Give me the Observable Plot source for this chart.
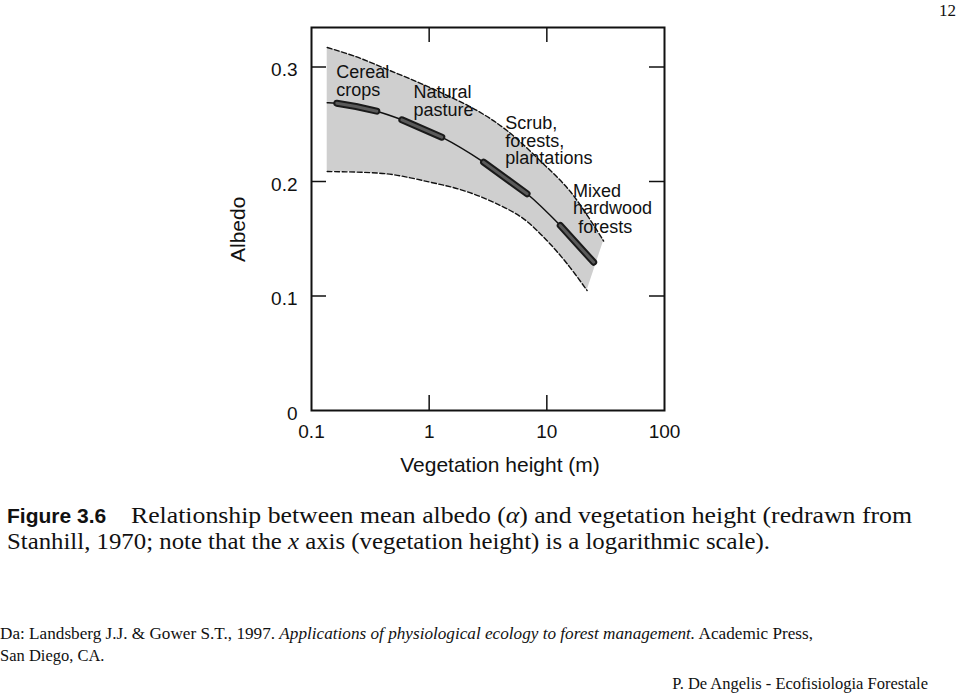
<!DOCTYPE html>
<html>
<head>
<meta charset="utf-8">
<script src="https://cdn.jsdelivr.net/npm/d3@7"></script>
<script src="https://cdn.jsdelivr.net/npm/@observablehq/plot@0.6"></script>
<style>
  html, body { margin: 0; padding: 0; background: #fff; width: 960px; height: 694px; overflow: hidden; }
  #chart { position: absolute; left: 0; top: 0; }
  #notes { position: absolute; left: 0; top: 0; pointer-events: none; }
  #notes text { font-family: "Liberation Serif", "Times New Roman", serif; fill: #111; }
</style>
</head>
<body>
<div id="chart"></div>
<svg id="notes" width="960" height="694">
  <text x="956" y="16" font-size="17" text-anchor="end">12</text>
  <text x="7" y="523" font-size="21" font-weight="bold" style="font-family:'Liberation Sans', Arial, sans-serif">Figure 3.6</text>
  <text x="131" y="523" font-size="24" textLength="781" lengthAdjust="spacingAndGlyphs">Relationship between mean albedo (<tspan font-style="italic">α</tspan>) and vegetation height (redrawn from</text>
  <text x="7" y="549" font-size="24" textLength="763" lengthAdjust="spacingAndGlyphs">Stanhill, 1970; note that the <tspan font-style="italic">x</tspan> axis (vegetation height) is a logarithmic scale).</text>
  <text x="0" y="639" font-size="16.5" textLength="813" lengthAdjust="spacingAndGlyphs">Da: Landsberg J.J. &amp; Gower S.T., 1997. <tspan font-style="italic">Applications of physiological ecology to forest management.</tspan> Academic Press,</text>
  <text x="0" y="661" font-size="16.5">San Diego, CA.</text>
  <text x="928" y="689" font-size="16.5" text-anchor="end">P. De Angelis - Ecofisiologia Forestale</text>
</svg>
<script>
// ---- Data (vegetation height in m, albedo) ----
const upperH = [0.136, 0.239, 0.437, 1.02, 2.55, 4.58, 8.80, 15.9, 30.4];
const upperA = [0.317, 0.309, 0.298, 0.282, 0.262, 0.2445, 0.218, 0.191, 0.148];

const meanH = [0.136, 0.164, 0.239, 0.359, 0.586, 1.28, 2.90, 6.79, 13.0, 25.0, 25.9];
const meanA = [0.2687, 0.2684, 0.2655, 0.2614, 0.2539, 0.2387, 0.2169, 0.1893, 0.1616, 0.1295, 0.1281];

const lowerH = [0.136, 0.437, 1.02, 1.96, 3.77, 6.35, 10.0, 14.9, 22.0];
const lowerA = [0.2087, 0.2067, 0.1994, 0.1921, 0.1805, 0.1674, 0.1485, 0.1281, 0.1048];

const classes = ["Cereal crops", "Natural pasture", "Scrub, forests, plantations", "Mixed hardwood forests"];
const classStart = [0.164, 0.586, 2.90, 13.0];
const classEnd = [0.359, 1.28, 6.79, 25.0];

const labelText = ["Cereal\ncrops", "Natural\npasture", "Scrub,\nforests,\nplantations", "Mixed\nhardwood", "forests"];
const labelH = [0.162, 0.735, 4.44, 16.7, 18.5];
const labelA = [0.3011, 0.2834, 0.2563, 0.1975, 0.166];

const xTicks = [0.1, 1, 10, 100];
const xTickLabels = ["0.1", "1", "10", "100"];
const yTicks = [0, 0.1, 0.2, 0.3];
const yTickLabels = ["0", "0.1", "0.2", "0.3"];
const innerXTicks = [1, 10];
const innerYTicks = [0.1, 0.2, 0.3];

// ---- Build tables ----
const upper = upperH.map((h, i) => ({h, a: upperA[i]}));
const lower = lowerH.map((h, i) => ({h, a: lowerA[i]}));
const mean = meanH.map((h, i) => ({h, a: meanA[i]}));
const band = upperH.map((h, i) => ({h1: h, a1: upperA[i], h2: lowerH[i], a2: lowerA[i]}));
const segs = classes.flatMap((c, i) =>
  mean.filter(p => p.h >= classStart[i] - 1e-9 && p.h <= classEnd[i] + 1e-9).map(p => ({...p, cls: c})));
const labels = labelText.map((t, i) => ({t, h: labelH[i], a: labelA[i]}));

const W = 960, H = 490, mT = 27, mB = 80, mL = 311, mR = 296;
const innerW = W - mL - mR, innerH = H - mT - mB;
const tick = 15;

const chart = Plot.plot({
  width: W, height: H,
  marginTop: mT, marginBottom: mB, marginLeft: mL, marginRight: mR,
  style: {fontFamily: "'Liberation Sans', Arial, Helvetica, sans-serif", color: "#111", background: "transparent"},
  x: {type: "log", domain: [0.1, 100]},
  y: {domain: [0, 0.3345]},
  marks: [
    Plot.area(band, {x1: "h1", y1: "a1", x2: "h2", y2: "a2", fill: "#cfcfcf", curve: "catmull-rom"}),
    Plot.line(upper, {x: "h", y: "a", stroke: "#111", strokeWidth: 1.4, strokeDasharray: "5 2.5", curve: "catmull-rom"}),
    Plot.line(lower, {x: "h", y: "a", stroke: "#111", strokeWidth: 1.4, strokeDasharray: "5 2.5", curve: "catmull-rom"}),
    Plot.line(mean, {x: "h", y: "a", stroke: "#111", strokeWidth: 1.5, curve: "catmull-rom"}),
    Plot.line(segs, {x: "h", y: "a", z: "cls", stroke: "#1a1a1a", strokeWidth: 7, strokeLinecap: "round"}),
    Plot.line(segs, {x: "h", y: "a", z: "cls", stroke: "#5a5a5a", strokeWidth: 3, strokeLinecap: "round"}),
    Plot.text(labels, {x: "h", y: "a", text: "t", textAnchor: "start", lineAnchor: "top", lineHeight: 0.97, fontSize: 18, fill: "#111"}),
    Plot.frame({stroke: "#111", strokeWidth: 2}),
    Plot.ruleX(innerXTicks, {stroke: "#111", strokeWidth: 1.5, insetTop: innerH - tick}),
    Plot.ruleX(innerXTicks, {stroke: "#111", strokeWidth: 1.5, insetBottom: innerH - tick}),
    Plot.ruleY(innerYTicks, {stroke: "#111", strokeWidth: 1.5, insetRight: innerW - tick}),
    Plot.ruleY(innerYTicks, {stroke: "#111", strokeWidth: 1.5, insetLeft: innerW - tick}),
    Plot.axisX({ticks: xTicks, tickFormat: d => xTickLabels[xTicks.indexOf(d)], tickSize: 0, tickPadding: 14, fontSize: 19, label: null}),
    Plot.axisY({ticks: yTicks, tickFormat: d => yTickLabels[yTicks.indexOf(d)], tickSize: 0, tickPadding: 14, dy: 3, fontSize: 19, label: null}),
    Plot.text(["Albedo"], {frameAnchor: "left", rotate: -90, dx: -73, dy: 43, fontSize: 21, fill: "#111"}),
    Plot.text(["Vegetation height (m)"], {frameAnchor: "bottom", dx: 12, dy: 61, fontSize: 21, fill: "#111"})
  ]
});
document.getElementById("chart").appendChild(chart);
</script>
</body>
</html>
